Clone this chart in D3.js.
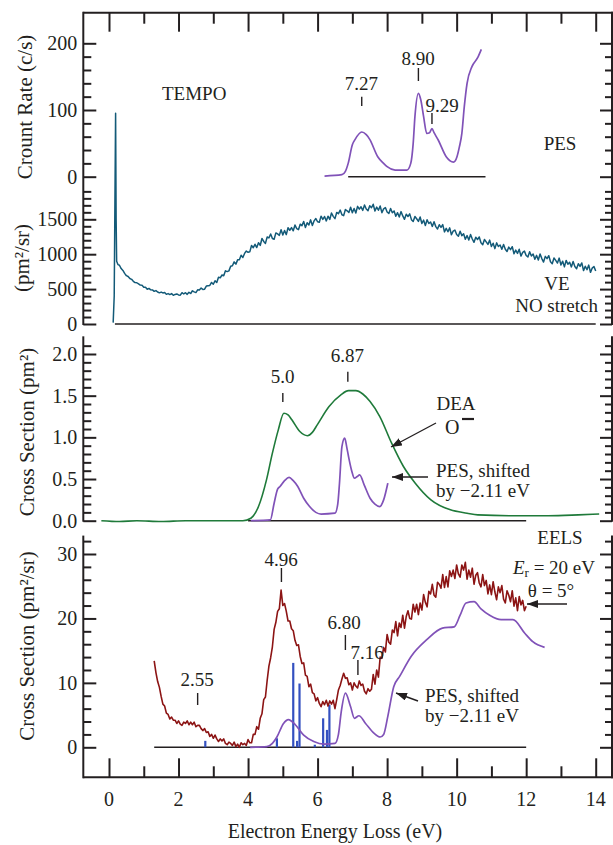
<!DOCTYPE html>
<html>
<head>
<meta charset="utf-8">
<script src="https://cdn.jsdelivr.net/npm/d3@7"></script>
<style>
html, body { margin: 0; padding: 0; background: #fff; }
svg { display: block; font-family: "Liberation Serif", "Times New Roman", serif; }
</style>
</head>
<body>
<div id="chart"></div>
<script>
// ---- data ----
const xTickValues = d3.range(0, 15);
const xLabelValues = [0, 2, 4, 6, 8, 10, 12, 14];

// panel 1: PES count rate (c/s)
const pesCount = [[6.2,1],[6.7,3],[6.8,8],[6.88,20],[7.0,48],[7.08,56],[7.27,67],[7.4,63],[7.5,56],
  [7.73,30],[7.9,20],[8.0,15],[8.23,10],[8.57,10],[8.68,20],[8.75,50],[8.8,90],[8.9,125],[8.97,115],
  [9.05,90],[9.14,65],[9.22,66],[9.29,72],[9.35,66],[9.47,55],[9.7,30],[9.91,22],[10.01,30],[10.08,45],
  [10.15,65],[10.22,105],[10.3,140],[10.44,165],[10.6,178],[10.71,191]];

// panel 2: VE NO stretch (pm^2/sr); elastic spike, then samples every 0.05 eV from 0.3 eV
const veSpike = [[0.12,20],[0.15,400],[0.19,3020],[0.205,1500],[0.22,900],[0.26,850]];
const veStart = 0.3, veStep = 0.05;
const veValues = [842,794,767,726,692,680,651,640,611,593,591,574,557,555,527,527,498,510,489,488,
  468,479,458,446,457,445,452,425,436,422,435,411,424,431,417,413,448,430,448,425,
  454,437,476,460,450,489,487,515,495,499,544,549,552,595,569,619,595,669,662,702,
  692,762,751,761,828,835,890,858,919,920,984,952,1011,1046,1027,1034,1125,1093,1142,1095,
  1165,1125,1225,1182,1155,1246,1233,1289,1225,1215,1305,1290,1270,1350,1275,1340,1280,1379,1343,1381,
  1335,1418,1367,1351,1430,1409,1468,1381,1450,1418,1492,1410,1478,1511,1465,1457,1545,1498,1540,1477,
  1545,1498,1590,1542,1510,1598,1580,1632,1565,1553,1640,1622,1598,1674,1595,1655,1590,1685,1645,1679,
  1628,1705,1647,1624,1695,1665,1715,1618,1675,1630,1690,1595,1650,1668,1605,1583,1655,1593,1620,1543,
  1595,1533,1610,1548,1500,1573,1540,1578,1495,1468,1540,1508,1470,1533,1440,1488,1410,1493,1440,1462,
  1398,1464,1395,1361,1422,1383,1424,1320,1371,1322,1378,1279,1330,1346,1282,1258,1330,1266,1293,1215,
  1267,1204,1281,1218,1170,1242,1210,1247,1165,1137,1210,1177,1140,1202,1110,1157,1080,1162,1110,1132,
  1070,1138,1071,1039,1102,1065,1108,1006,1059,1012,1070,973,1026,1044,982,961,1035,974,1003,927,
  983,916,1004,937,887,969,936,979,891,863,945,911,873,944,845,900,818,911,856,884,
  818,895,824,791,863,825,875,765,827,778,844,740,801,824,758];

// panel 3: DEA O- cross section (pm^2) and PES shifted by -2.11 eV
const deaO = [[-0.22,0.0],[0.3,-0.01],[0.8,0.0],[1.5,-0.01],[2.2,0.0],[3.0,0.0],[3.5,0.0],[3.85,0.0],
  [4.08,0.03],[4.3,0.17],[4.53,0.49],[4.7,0.81],[4.87,1.09],[5.03,1.29],[5.15,1.27],[5.26,1.21],
  [5.49,1.07],[5.71,1.02],[5.85,1.06],[5.99,1.15],[6.33,1.37],[6.67,1.51],[6.89,1.56],[7.1,1.56],
  [7.3,1.52],[7.51,1.43],[7.79,1.25],[8.13,0.93],[8.47,0.65],[8.81,0.45],[9.26,0.25],[9.82,0.13],
  [10.3,0.09],[10.61,0.07],[11.51,0.06],[12.64,0.06],[13.5,0.07],[14.1,0.08]];
const pesDea = [[4.08,0],[4.64,0.01],[4.75,0.21],[4.85,0.38],[4.92,0.41],[5.05,0.48],[5.18,0.52],
  [5.3,0.48],[5.43,0.41],[5.6,0.27],[5.77,0.17],[5.95,0.1],[6.1,0.08],[6.5,0.09],[6.58,0.2],[6.63,0.45],
  [6.7,0.89],[6.78,0.99],[6.84,0.88],[6.89,0.77],[6.98,0.6],[7.06,0.51],[7.14,0.53],[7.21,0.55],
  [7.34,0.43],[7.51,0.27],[7.65,0.2],[7.79,0.17],[7.9,0.25],[8.02,0.45]];

// panel 4: EELS (pm^2/sr), samples every 0.05 eV from 1.3 eV
const eelsStart = 1.3, eelsStep = 0.05;
const eelsValues = [13.4,11.6,10.2,9.3,7.9,6.7,6.4,5.3,5.1,4.4,4.7,4.2,4.2,3.7,4.1,3.6,3.4,3.9,3.7,4.1,
  3.5,3.9,3.5,3.9,3.2,3.4,3.4,2.9,2.6,2.9,2.3,2.4,1.7,2.0,1.4,1.9,1.3,0.9,1.3,1.0,
  1.3,0.6,0.4,0.8,0.6,0.3,0.8,0.1,0.5,0.0,0.7,0.4,0.6,0.3,1.2,0.7,0.7,2.0,2.0,3.2,
  2.8,4.5,5.2,7.4,7.8,10.4,12.6,13.9,15.6,18.3,19.4,21.1,21.5,24.4,22.0,22.3,21.1,19.6,19.6,18.4,
  18.1,16.6,15.8,15.9,14.1,13.0,13.1,11.2,11.0,9.4,9.8,8.5,8.3,7.2,7.7,6.8,6.3,7.1,6.6,7.3,
  6.4,7.2,6.7,7.3,6.0,7.4,8.9,9.6,10.6,11.5,10.7,10.8,9.7,10.0,8.9,10.0,9.5,9.2,10.3,9.6,
  9.8,8.7,8.3,9.1,8.7,9.0,11.3,9.8,12.0,10.9,14.0,13.8,15.5,14.8,17.5,16.3,16.0,18.2,17.8,19.5,
  17.3,19.3,18.6,20.5,18.5,20.3,21.2,20.0,19.9,22.2,21.0,22.2,20.6,22.4,21.3,23.7,22.5,21.8,24.2,23.8,
  25.3,23.6,23.3,25.6,25.3,24.7,26.8,24.8,26.5,24.9,27.4,26.5,27.5,26.2,28.3,26.9,26.4,28.3,27.5,28.7,
  26.1,27.5,26.4,27.8,25.3,26.7,27.1,25.5,24.9,26.8,25.1,25.9,23.8,25.2,23.7,25.7,24.1,22.9,24.9,24.0,
  25.1,23.0,22.4,24.3,23.6,22.6,24.3,21.9,23.2,21.2,23.4,22.1,22.8,21.2,21.9];
const pesEels = [[4.06,0],[4.54,0.1],[4.7,0.6],[4.83,1.6],[5.02,3.7],[5.16,4.3],[5.36,3.5],[5.6,1.9],
  [5.89,0.9],[6.18,0.5],[6.5,0.6],[6.6,2.0],[6.68,5.5],[6.8,8.4],[6.95,6.3],[7.06,4.5],[7.19,4.9],
  [7.38,3.7],[7.62,2.2],[7.8,1.6],[7.9,2.0],[8.02,4.8],[8.19,9.4],[8.36,11.0],[8.69,14.1],[9.14,16.7],
  [9.59,18.5],[9.93,18.7],[10.1,20.5],[10.27,22.4],[10.5,22.6],[10.7,21.5],[10.95,20.5],[11.28,19.8],
  [11.62,19.8],[11.96,17.7],[12.19,16.4],[12.53,15.5]];
const sticks = [[2.77,1.0],[4.83,1.4],[5.30,13.1],[5.41,1.0],[5.48,9.9],[5.92,0.4],[6.16,4.5],[6.27,2.7],[6.34,6.6]];

// ---- layout ----
const W = 613, H = 845;
const L = 83.3, R = 612, T = 12.7, B = 777.3;
const INK = "#231f20";
const C_VE = "#135a78", C_DEA = "#1f7a3a", C_PES = "#8052b8", C_EELS = "#8c1414", C_STICK = "#3350c0";

const x = d3.scaleLinear().domain([0, 14]).range([109, 595.7]);
const y1 = d3.scaleLinear().domain([0, 200]).range([176.7, 43.3]);
const y2 = d3.scaleLinear().domain([0, 1500]).range([324, 219.3]);
const y3 = d3.scaleLinear().domain([0, 2]).range([520.7, 354]);
const y4 = d3.scaleLinear().domain([0, 30]).range([747.3, 554]);

const svg = d3.select("#chart").append("svg").attr("width", W).attr("height", H);
svg.append("rect").attr("width", W).attr("height", H).attr("fill", "#fff");

const defs = svg.append("defs");
defs.append("marker").attr("id", "arrow")
  .attr("viewBox", "0 -5 10 10").attr("refX", 10).attr("refY", 0)
  .attr("markerWidth", 11).attr("markerHeight", 8).attr("markerUnits", "userSpaceOnUse")
  .attr("preserveAspectRatio", "none").attr("orient", "auto")
  .append("path").attr("d", "M0,-5L10,0L0,5Z").attr("fill", INK);

// ---- frame and axes ----
const frame = svg.append("g").attr("stroke", INK).attr("stroke-width", 2);
frame.append("line").attr("x1", L).attr("x2", R + 1).attr("y1", T).attr("y2", T);
frame.append("line").attr("x1", L).attr("x2", R + 1).attr("y1", B).attr("y2", B);
const spans = [[T, y2(0)], [y3(2.2), y3(0)], [y4(32.7), B]];
spans.forEach(([a, b]) => {
  frame.append("line").attr("x1", L).attr("x2", L).attr("y1", a - 1).attr("y2", b + 1);
  frame.append("line").attr("x1", R).attr("x2", R).attr("y1", a - 1).attr("y2", b + 1);
});

function styleAxis(g) {
  g.attr("font-family", null).attr("font-size", null);
  g.select(".domain").remove();
  g.selectAll("line").attr("stroke-width", 2);
  g.selectAll("text").attr("font-size", 20).attr("fill", INK);
}

function yAxes(scale, major, minor, fmt) {
  svg.append("g").attr("transform", `translate(${L},0)`).attr("color", INK)
    .call(d3.axisLeft(scale).tickValues(major).tickSize(-13).tickPadding(6).tickFormat(fmt))
    .call(styleAxis);
  svg.append("g").attr("transform", `translate(${L},0)`).attr("color", INK)
    .call(d3.axisLeft(scale).tickValues(minor).tickSize(-8).tickFormat(""))
    .call(styleAxis);
  svg.append("g").attr("transform", `translate(${R},0)`).attr("color", INK)
    .call(d3.axisRight(scale).tickValues(major).tickSize(-12).tickFormat(""))
    .call(styleAxis);
  svg.append("g").attr("transform", `translate(${R},0)`).attr("color", INK)
    .call(d3.axisRight(scale).tickValues(minor).tickSize(-7).tickFormat(""))
    .call(styleAxis);
}

yAxes(y1, [0, 100, 200], d3.range(20, 200, 20).filter(v => v !== 100), d3.format("d"));
yAxes(y2, [0, 500, 1000, 1500], d3.range(100, 2000, 100).filter(v => v % 500 !== 0), d3.format("d"));
yAxes(y3, [0, 0.5, 1.0, 1.5, 2.0], d3.range(1, 22).filter(v => v % 5 !== 0).map(v => v / 10), d3.format(".1f"));
yAxes(y4, [0, 10, 20, 30], d3.range(2, 34, 2).filter(v => v % 10 !== 0), d3.format("d"));

// top and bottom x ticks
const evens = xTickValues.filter(v => v % 2 === 0), odds = xTickValues.filter(v => v % 2 === 1);
svg.append("g").attr("transform", `translate(0,${T})`).attr("color", INK)
  .call(d3.axisTop(x).tickValues(evens).tickSize(-19).tickFormat("")).call(styleAxis);
svg.append("g").attr("transform", `translate(0,${T})`).attr("color", INK)
  .call(d3.axisTop(x).tickValues(odds).tickSize(-11).tickFormat("")).call(styleAxis);
svg.append("g").attr("transform", `translate(0,${B})`).attr("color", INK)
  .call(d3.axisBottom(x).tickValues(evens).tickSize(-19).tickFormat("")).call(styleAxis);
svg.append("g").attr("transform", `translate(0,${B})`).attr("color", INK)
  .call(d3.axisBottom(x).tickValues(odds).tickSize(-11).tickFormat("")).call(styleAxis);
svg.append("g").selectAll("text").data(xLabelValues).join("text")
  .attr("x", d => x(d)).attr("y", 806).attr("text-anchor", "middle")
  .attr("font-size", 20).attr("fill", INK).text(d => d);

svg.append("text").attr("x", 335).attr("y", 838).attr("text-anchor", "middle")
  .attr("font-size", 20).attr("fill", INK).text("Electron Energy Loss (eV)");

// y titles
const yTitles = [["Crount Rate (c/s)", 25, 107], ["(pm²/sr)", 22, 258],
  ["Cross Section (pm²)", 27, 432], ["Cross Section (pm²/sr)", 27, 646]];
svg.append("g").selectAll("text").data(yTitles).join("text")
  .attr("transform", d => `translate(${d[1]},${d[2]}) rotate(-90)`)
  .attr("text-anchor", "middle").attr("dominant-baseline", "central")
  .attr("font-size", 21).attr("fill", INK).text(d => d[0]);

// ---- zero lines ----
const zeros = [[y1, 6.88, 10.83], [y2, 0.17, 14.0], [y3, 4.0, 12.0], [y4, 1.3, 12.0]];
svg.append("g").selectAll("line").data(zeros).join("line")
  .attr("x1", d => x(d[1])).attr("x2", d => x(d[2]))
  .attr("y1", d => d[0](0)).attr("y2", d => d[0](0))
  .attr("stroke", INK).attr("stroke-width", 1.6);

// ---- curves ----
function curve(data, ys, color, width, smooth) {
  const line = d3.line().x(d => x(d[0])).y(d => ys(d[1]))
    .curve(smooth ? d3.curveMonotoneX : d3.curveLinear);
  svg.append("path").datum(data).attr("d", line).attr("fill", "none")
    .attr("stroke", color).attr("stroke-width", width).attr("stroke-linejoin", "round");
}

curve(pesCount, y1, C_PES, 1.7, true);
const veData = veSpike.concat(veValues.map((v, i) => [veStart + i * veStep, v]));
curve(veData, y2, C_VE, 1.5, false);
curve(pesDea, y3, C_PES, 1.7, true);
curve(deaO, y3, C_DEA, 1.6, true);

// stick spectrum
svg.append("g").selectAll("line").data(sticks).join("line")
  .attr("x1", d => x(d[0])).attr("x2", d => x(d[0]))
  .attr("y1", y4(0)).attr("y2", d => y4(d[1]))
  .attr("stroke", C_STICK).attr("stroke-width", 2.2);
curve(pesEels, y4, C_PES, 1.7, true);
curve(eelsValues.map((v, i) => [eelsStart + i * eelsStep, v]), y4, C_EELS, 1.6, false);

// ---- annotations ----
const label = (t, xx, yy, anchor = "middle", size = 19) =>
  svg.append("text").attr("x", xx).attr("y", yy).attr("text-anchor", anchor)
    .attr("dominant-baseline", "central").attr("font-size", size).attr("fill", INK).text(t);

const peakMarks = [
  [7.27, "7.27", 361.3, 83, 96.7, 106],
  [8.90, "8.90", 418, 58, 68, 81],
  [9.29, "9.29", 442, 105, 113, 124],
  [5.0, "5.0", 282.5, 376, 393, 402],
  [6.87, "6.87", 347.4, 355, 371.7, 381.7],
  [4.96, "4.96", 281, 559, 568, 582],
  [2.55, "2.55", 197, 679, 693, 705],
  [6.80, "6.80", 344, 622, 635, 650],
  [7.16, "7.16", 367, 652, 660, 675]
];
peakMarks.forEach(p => {
  label(p[1], p[2], p[3]);
  svg.append("line").attr("x1", x(p[0])).attr("x2", x(p[0])).attr("y1", p[4]).attr("y2", p[5])
    .attr("stroke", INK).attr("stroke-width", 1.4);
});

label("TEMPO", 162, 93, "start");
label("PES", 560, 143);
label("VE", 557, 283);
label("NO stretch", 598, 305, "end");

label("DEA", 456, 403);
label("O", 445, 427, "start", 20);
svg.append("line").attr("x1", 462).attr("x2", 474).attr("y1", 419).attr("y2", 419)
  .attr("stroke", INK).attr("stroke-width", 2.2);
label("PES, shifted", 436, 470, "start");
label("by −2.11 eV", 436, 490, "start");

label("EELS", 560, 537);
const er = svg.append("text").attr("x", 595).attr("y", 567).attr("text-anchor", "end")
  .attr("dominant-baseline", "central").attr("font-size", 19).attr("fill", INK);
er.append("tspan").attr("font-style", "italic").text("E");
er.append("tspan").attr("font-size", 13).attr("dy", 5).text("r");
er.append("tspan").attr("dy", -5).text(" = 20 eV");
label("θ = 5°", 551, 590);
label("PES, shifted", 425, 695, "start");
label("by −2.11 eV", 425, 715, "start");

const arrows = [[436, 423, 391, 447], [428, 477, 392, 477], [567, 604, 527, 604], [418, 701, 396, 693]];
svg.append("g").selectAll("line").data(arrows).join("line")
  .attr("x1", d => d[0]).attr("y1", d => d[1]).attr("x2", d => d[2]).attr("y2", d => d[3])
  .attr("stroke", INK).attr("stroke-width", 1.4).attr("marker-end", "url(#arrow)");
</script>
</body>
</html>
